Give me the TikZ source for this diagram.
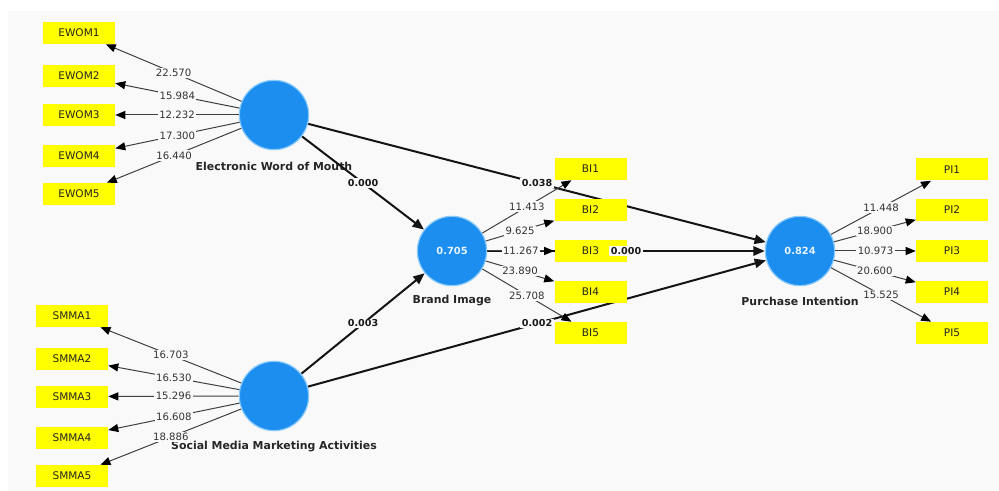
\documentclass[tikz,border=0pt]{standalone}
\usepackage{fontspec}
\setmainfont{DejaVu Sans}
\usetikzlibrary{arrows.meta}
\definecolor{bgc}{HTML}{F9F9F9}
\definecolor{lvblue}{HTML}{1B8EF0}
\definecolor{ringc}{HTML}{8CCBFA}
\definecolor{boxy}{HTML}{FFFF00}
\definecolor{valc}{HTML}{E6F3FF}
\pgfdeclarelayer{back}
\pgfdeclarelayer{lines}
\pgfsetlayers{back,lines,main}
\begin{document}
\begin{tikzpicture}[x=0.75pt,y=-0.75pt,
  lv/.style={circle, fill=lvblue, draw=ringc, line width=0.9pt, minimum size=52pt, inner sep=0pt, text=valc, font=\bfseries\fontsize{7.4}{8}\selectfont},
  ind/.style={rectangle, fill=boxy, minimum width=54pt, minimum height=16.5pt, inner sep=0pt, font=\fontsize{7.9}{9}\selectfont, text=black!85},
  lname/.style={inner sep=0pt, font=\bfseries\fontsize{8.2}{9}\selectfont, text=black!85},
  spath/.style={line width=1.5pt, black!92, -{Triangle[length=8.5pt,width=7pt]}},
  ld/.style={line width=0.75pt, black!75, -{Triangle[length=7.5pt,width=6pt,color=black]}},
  ll/.style={fill=bgc, inner sep=1pt, font=\fontsize{7.6}{8}\selectfont, text=black!80},
  pl/.style={fill=bgc, inner sep=1pt, font=\bfseries\fontsize{7.2}{8}\selectfont, text=black!90}]
\useasboundingbox (0,0) rectangle (999,491);
\begin{pgfonlayer}{back}
\fill[white] (0,0) rectangle (999,491);
\fill[bgc] (8,11) rectangle (999,491);
\end{pgfonlayer}
% latent variables
\node[lv] (ewom) at (274,115) {};
\node[lv] (smma) at (274,396) {};
\node[lv] (bi) at (452,251) {0.705};
\node[lv] (pi) at (800,251) {0.824};
% indicators
\node[ind] (e1) at (79,33) {EWOM1};
\node[ind] (e2) at (79,76) {EWOM2};
\node[ind] (e3) at (79,115) {EWOM3};
\node[ind] (e4) at (79,156) {EWOM4};
\node[ind] (e5) at (79,194) {EWOM5};
\node[ind] (s1) at (72,316) {SMMA1};
\node[ind] (s2) at (72,359) {SMMA2};
\node[ind] (s3) at (72,396.5) {SMMA3};
\node[ind] (s4) at (72,437.5) {SMMA4};
\node[ind] (s5) at (72,476) {SMMA5};
\node[ind] (b1) at (590.5,169) {BI1};
\node[ind] (b2) at (590.5,210) {BI2};
\node[ind] (b3) at (590.5,251) {BI3};
\node[ind] (b4) at (590.5,292) {BI4};
\node[ind] (b5) at (590.5,333) {BI5};
\node[ind] (p1) at (952,169.5) {PI1};
\node[ind] (p2) at (952,210) {PI2};
\node[ind] (p3) at (952,251) {PI3};
\node[ind] (p4) at (952,292) {PI4};
\node[ind] (p5) at (952,333) {PI5};
% names and structural paths under the boxes
\begin{pgfonlayer}{lines}
\node[lname] (n1) at (274,166) {Electronic Word of Mouth};
\node[lname] (n2) at (274,447) {Social Media Marketing Activities};
\node[lname] (n3) at (452,301) {Brand Image};
\node[lname] (n4) at (800,301) {Purchase Intention};
\draw[spath] (ewom) -- (bi);
\draw[spath] (ewom) -- (pi);
\draw[spath] (smma) -- (bi);
\draw[spath] (smma) -- (pi);
\draw[spath] (bi) -- (pi);
\end{pgfonlayer}
% path coefficients
\path (ewom) -- node[pl]{0.000} (bi);
\path (ewom) -- node[pl]{0.038} (pi);
\path (smma) -- node[pl]{0.003} (bi);
\path (smma) -- node[pl]{0.002} (pi);
\path (bi) -- node[pl]{0.000} (pi);
% loadings
\draw[ld] (ewom) -- node[ll]{22.570} (e1);
\draw[ld] (ewom) -- node[ll]{15.984} (e2);
\draw[ld] (ewom) -- node[ll]{12.232} (e3);
\draw[ld] (ewom) -- node[ll]{17.300} (e4);
\draw[ld] (ewom) -- node[ll]{16.440} (e5);
\draw[ld] (smma) -- node[ll]{16.703} (s1);
\draw[ld] (smma) -- node[ll]{16.530} (s2);
\draw[ld] (smma) -- node[ll]{15.296} (s3);
\draw[ld] (smma) -- node[ll]{16.608} (s4);
\draw[ld] (smma) -- node[ll]{18.886} (s5);
\draw[ld] (bi) -- node[ll]{11.413} (b1);
\draw[ld] (bi) -- node[ll]{9.625} (b2);
\draw[ld] (bi) -- node[ll]{11.267} (b3);
\draw[ld] (bi) -- node[ll]{23.890} (b4);
\draw[ld] (bi) -- node[ll]{25.708} (b5);
\draw[ld] (pi) -- node[ll]{11.448} (p1);
\draw[ld] (pi) -- node[ll]{18.900} (p2);
\draw[ld] (pi) -- node[ll]{10.973} (p3);
\draw[ld] (pi) -- node[ll]{20.600} (p4);
\draw[ld] (pi) -- node[ll]{15.525} (p5);
\end{tikzpicture}
\end{document}
